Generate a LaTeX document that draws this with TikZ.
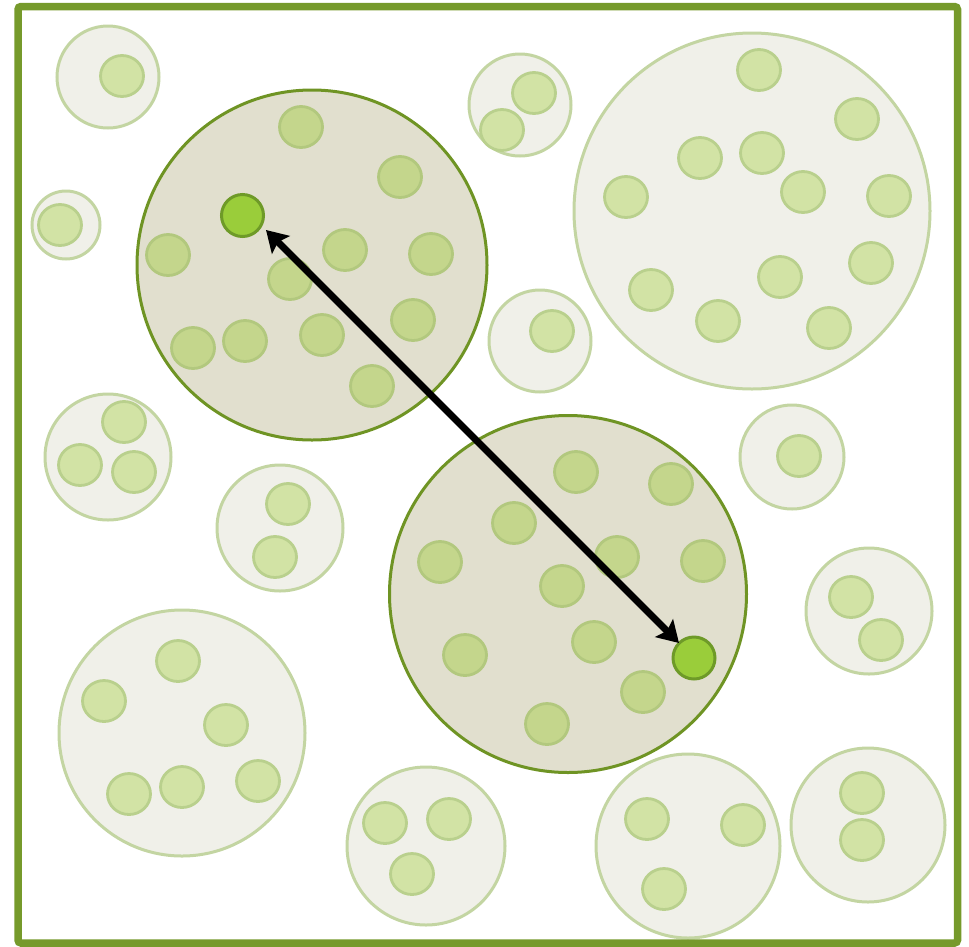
\documentclass[tikz,border=0pt]{standalone}
\usetikzlibrary{arrows.meta}
\definecolor{borderg}{HTML}{769A2B}
\definecolor{fadefill}{HTML}{F0F0E9}
\definecolor{fadeline}{HTML}{C3D5A2}
\definecolor{sfadefill}{HTML}{D2E3A5}
\definecolor{sfadeline}{HTML}{B9D08D}
\definecolor{hifill}{HTML}{E1DFCE}
\definecolor{hiline}{HTML}{6F9424}
\definecolor{shifill}{HTML}{C4D68C}
\definecolor{shiline}{HTML}{B2C87E}
\definecolor{gfill}{HTML}{9ACD3A}
\definecolor{gline}{HTML}{6E9A28}
\tikzset{
  fadebig/.style={draw=fadeline,fill=fadefill,line width=3pt},
  fadesmall/.style={draw=sfadeline,fill=sfadefill,line width=2.8pt},
  hibig/.style={draw=hiline,fill=hifill,line width=3pt},
  hismall/.style={draw=shiline,fill=shifill,line width=2.8pt},
  greendot/.style={circle,draw=gline,fill=gfill,line width=3pt,minimum size=42pt,inner sep=0pt},
  distarrow/.style={line width=7pt,{Stealth[length=21pt,width=25pt,inset=4pt]}-{Stealth[length=21pt,width=25pt,inset=4pt]}}
}
\begin{document}
\begin{tikzpicture}[x=1pt,y=-1pt]
\useasboundingbox (0,0) rectangle (969,946);
% faded groups
\foreach \x/\y/\r in {108/77/51,66/225/34,520/105/51,752/211/178,540/341/51,108/457/63,280/528/63,792/457/52,869/611/63,182/733/123,426/846/79,688/846/92,868/825/77}
  \draw[fadebig] (\x,\y) circle (\r);
\foreach \x/\y in {122/76,60/225,534/93,502/130,
  759/70,857/119,700/158,762/153,626/197,803/192,889/196,871/263,651/290,780/277,718/321,829/328,
  552/331,124/422,80/465,134/472,288/504,275/557,799/456,851/597,881/640,
  178/661,104/701,226/725,129/794,182/787,258/781,
  385/823,449/819,412/874,647/819,743/825,664/889,862/793,862/840}
  \draw[fadesmall] (\x,\y) ellipse (21.5 and 20.5);
% highlighted groups
\draw[hibig] (312,265) circle (175);
\draw[hibig] (568,594) circle (178.5);
\foreach \x/\y in {301/127,400/177,168/255,345/250,431/254,290/279,413/320,193/348,245/341,322/335,372/386,
  576/472,671/484,514/523,440/562,617/557,703/561,562/586,465/655,594/642,643/692,547/724}
  \draw[hismall] (\x,\y) ellipse (21.5 and 20.5);
\node[greendot] (ga) at (242.5,215.5) {};
\node[greendot] (gb) at (694,658) {};
\coordinate (ta) at (266,230);
\coordinate (tb) at (679,643);
\draw[distarrow] (ta) -- (tb);
% border
\draw[borderg,line width=7.5pt,rounded corners=3pt] (18,6.5) rectangle (957.5,943);
\end{tikzpicture}
\end{document}
